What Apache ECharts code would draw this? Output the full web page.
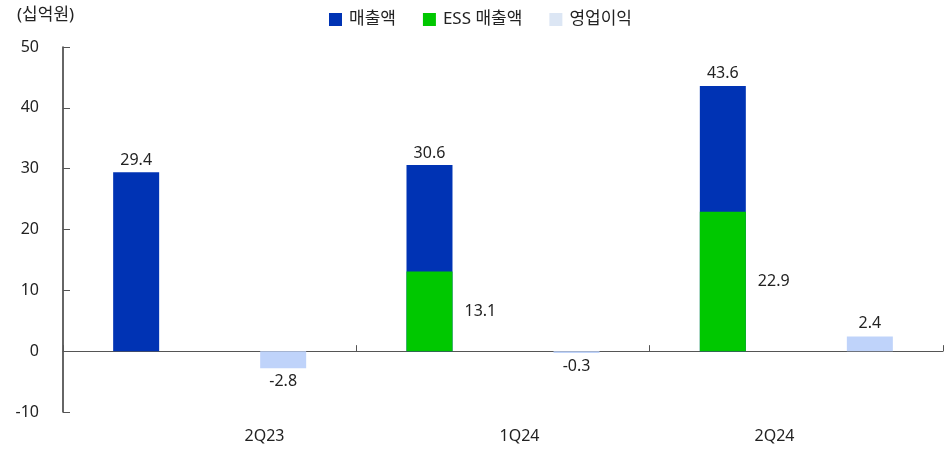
<!DOCTYPE html>
<html>
<head>
<meta charset="utf-8">
<script src="https://cdn.jsdelivr.net/npm/echarts@6/dist/echarts.min.js"></script>
<style>html,body{margin:0;padding:0;background:#fff}#c{width:945px;height:454px}</style>
</head>
<body>
<div id="c"></div>
<script>
const categories = ['2Q23', '1Q24', '2Q24'];
const sales = [29.4, 30.6, 43.6];
const essSales = ['-', 13.1, 22.9];
const opProfit = [-2.8, -0.3, 2.4];
const yTicks = { min: -10, max: 50, interval: 10 };
const unitLabel = '(십억원)';
const seriesNames = ['매출액', 'ESS 매출액', '영업이익'];

const FONT = '"Noto Sans", "Noto Sans CJK KR", sans-serif';
const TXT = '#222';
const C_SALES = '#0033B4';
const C_ESS = '#00C800';
const C_OP = '#BFD3FA';

const chart = echarts.init(document.getElementById('c'));
const labelBase = { show: true, fontFamily: FONT, fontSize: 16, color: TXT };

chart.setOption({
  animation: false,
  backgroundColor: '#fff',
  textStyle: { fontFamily: FONT },
  title: {
    text: unitLabel, left: 12, top: 2,
    textStyle: { fontFamily: FONT, fontSize: 17, fontWeight: 'normal', color: TXT }
  },
  legend: {
    left: 329, top: 11, padding: 0, itemWidth: 13, itemHeight: 13, itemGap: 27,
    textStyle: { fontFamily: FONT, fontSize: 17, color: TXT, padding: [0, 0, 0, 2] },
    data: [
      { name: seriesNames[0], icon: 'rect' },
      { name: seriesNames[1], icon: 'rect' },
      { name: seriesNames[2], icon: 'rect', itemStyle: { color: '#DCE6F4' } }
    ]
  },
  grid: [
    { left: 63, right: 2, top: 47, bottom: 42 },
    { left: 137, width: 765, top: 47, bottom: 42 }
  ],
  xAxis: [
    {
      type: 'category', data: categories, gridIndex: 0,
      axisLine: { onZero: true, lineStyle: { color: '#555', width: 1 } },
      axisTick: { show: true, inside: true, length: 6, lineStyle: { color: '#555' } },
      axisLabel: { show: false }
    },
    {
      type: 'category', data: categories, gridIndex: 0, show: false
    },
    {
      type: 'category', data: categories, gridIndex: 1, position: 'bottom',
      axisLine: { show: false }, axisTick: { show: false },
      axisLabel: { fontFamily: FONT, fontSize: 16, color: TXT, margin: 16 }
    }
  ],
  yAxis: [
    {
      type: 'value', gridIndex: 0, min: yTicks.min, max: yTicks.max, interval: yTicks.interval,
      axisLine: { show: true, lineStyle: { color: '#333', width: 1.5 } },
      axisTick: { show: true, inside: true, length: 7, lineStyle: { color: '#555' } },
      splitLine: { show: false },
      axisLabel: { fontFamily: FONT, fontSize: 16, color: TXT, margin: 24 }
    },
    {
      type: 'value', gridIndex: 1, min: yTicks.min, max: yTicks.max, show: false,
      splitLine: { show: false }
    }
  ],
  series: [
    {
      name: seriesNames[0], type: 'bar', xAxisIndex: 0, yAxisIndex: 0,
      data: sales, barWidth: 46, barGap: '219.6%', z: 2,
      itemStyle: { color: C_SALES },
      label: Object.assign({}, labelBase, { position: 'top', distance: 4 })
    },
    {
      name: seriesNames[2], type: 'bar', xAxisIndex: 0, yAxisIndex: 0,
      data: opProfit.map(v => ({ value: v, label: { position: v < 0 ? 'bottom' : 'top' } })),
      barWidth: 46, barGap: '219.6%', z: 2,
      itemStyle: { color: C_OP },
      label: Object.assign({}, labelBase, { distance: 5 })
    },
    {
      name: seriesNames[1], type: 'bar', xAxisIndex: 1, yAxisIndex: 0,
      data: essSales, barWidth: 46, barGap: '219.6%', z: 3,
      itemStyle: { color: C_ESS },
      label: Object.assign({}, labelBase, { position: 'right', distance: 12 })
    },
    {
      name: '_spacer', type: 'bar', xAxisIndex: 1, yAxisIndex: 0,
      data: ['-', '-', '-'], barWidth: 46, barGap: '219.6%', silent: true
    }
  ]
});
</script>
</body>
</html>
